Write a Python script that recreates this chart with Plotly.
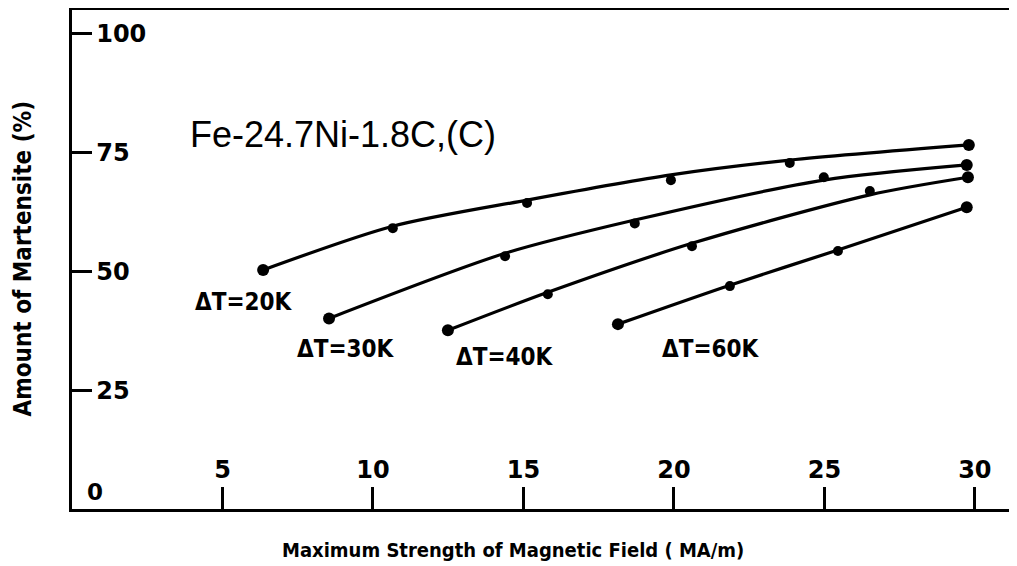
import plotly.graph_objects as go

# Measured points (x: Maximum field MA/m, y: Amount of martensite %)
x_20K = [6.35, 10.66, 15.12, 19.9, 23.85, 29.8]
y_20K = [50.3, 59.1, 64.4, 69.2, 72.8, 76.6]
x_30K = [8.54, 14.39, 18.7, 24.98, 29.73]
y_30K = [40.1, 53.2, 60.1, 69.8, 72.4]
x_40K = [12.49, 15.81, 20.6, 26.51, 29.77]
y_40K = [37.6, 45.2, 55.3, 66.9, 69.8]
x_60K = [18.14, 21.86, 25.45, 29.73]
y_60K = [38.9, 46.9, 54.3, 63.5]

# Fitted curves
cx_20K = [6.35, 10.66, 15.12, 19.9, 23.85, 29.8]
cy_20K = [50.3, 59.5, 65.0, 70.3, 73.4, 76.6]
cx_30K = [8.54, 14.39, 18.7, 24.98, 29.73]
cy_30K = [40.1, 53.8, 60.8, 69.2, 72.4]
cx_40K = [12.49, 15.81, 20.6, 26.51, 29.77]
cy_40K = [37.6, 45.6, 55.9, 66.1, 69.8]
cx_60K = [18.14, 21.86, 25.45, 29.73]
cy_60K = [38.9, 47.1, 54.5, 63.5]

series_labels = ["ΔT=20K", "ΔT=30K", "ΔT=40K", "ΔT=60K"]
label_x = [5.71, 9.1, 14.39, 21.23]
label_y = [43.5, 33.6, 31.9, 33.6]

x_ticks = [5, 10, 15, 20, 25, 30]
y_ticks = [25, 50, 75, 100]

BOLD = "DejaVu Sans"
COND = "DejaVu Sans Condensed"

fig = go.Figure()
curves = [(cx_20K, cy_20K), (cx_30K, cy_30K), (cx_40K, cy_40K), (cx_60K, cy_60K)]
points = [(x_20K, y_20K), (x_30K, y_30K), (x_40K, y_40K), (x_60K, y_60K)]
for (cx, cy), (px, py), name in zip(curves, points, series_labels):
    fig.add_trace(go.Scatter(x=cx, y=cy, mode="lines", line=dict(color="black", width=3.2, shape="spline", smoothing=0.8),
                             showlegend=False, hoverinfo="skip"))
    sizes = [12] + [10] * (len(px) - 2) + [12]
    fig.add_trace(go.Scatter(x=px, y=py, mode="markers", name=name, opacity=1,
                             marker=dict(color="black", size=sizes, opacity=1, line=dict(width=0, color="black")),
                             showlegend=False))

annotations = [
    dict(x=9.0, y=78.9, text="Fe-24.7Ni-1.8C,(C)", showarrow=False, xanchor="center", yanchor="middle",
         font=dict(family="Liberation Sans", size=36, color="black")),
    dict(x=0.76, y=3.5, text="0", showarrow=False, xanchor="center", yanchor="middle",
         font=dict(family=BOLD, size=23, color="black", weight="bold")),
    dict(xref="paper", yref="paper", x=0.5, y=-41 / 499, text="Maximum Strength of Magnetic Field ( MA/m)",
         showarrow=False, xanchor="center", yanchor="middle", xshift=-32,
         font=dict(family=COND, size=20, color="black", weight="bold")),
    dict(xref="paper", yref="paper", x=-50 / 945, y=0.5, text="Amount of Martensite (%)", textangle=-90,
         showarrow=False, xanchor="center", yanchor="middle", yshift=1,
         font=dict(family=COND, size=24, color="black", weight="bold")),
]
for t, lx, ly in zip(series_labels, label_x, label_y):
    annotations.append(dict(x=lx, y=ly, text=t, showarrow=False, xanchor="center", yanchor="middle",
                            font=dict(family=COND, size=24, color="black", weight="bold")))

fig.update_layout(
    width=1009, height=558,
    margin=dict(l=64, r=0, t=2, b=57, autoexpand=False),
    paper_bgcolor="white", plot_bgcolor="white",
    annotations=annotations,
    xaxis=dict(range=[0, 31.4], tickvals=x_ticks, ticktext=[str(v) for v in x_ticks],
               ticks="inside", ticklen=22, tickwidth=3, tickcolor="black",
               ticklabelposition="inside", ticklabelstandoff=6,
               showline=True, linewidth=3, linecolor="black", mirror=True,
               showgrid=False, zeroline=False,
               tickfont=dict(family=BOLD, size=24, color="black", weight="bold")),
    yaxis=dict(range=[0, 105], tickvals=y_ticks, ticktext=[str(v) for v in y_ticks],
               ticks="inside", ticklen=20, tickwidth=3, tickcolor="black",
               ticklabelposition="inside", ticklabelstandoff=6,
               showline=True, linewidth=3, linecolor="black",
               showgrid=False, zeroline=False,
               tickfont=dict(family=BOLD, size=24, color="black", weight="bold")),
)

fig.write_html("out.html")
